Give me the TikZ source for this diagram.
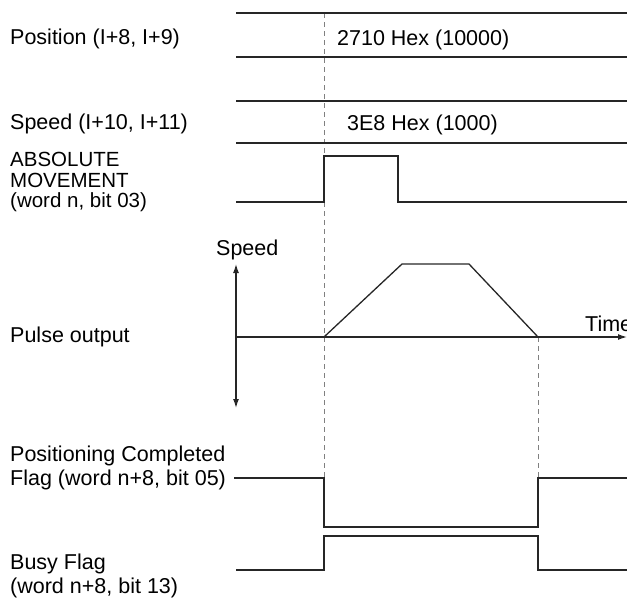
\documentclass[tikz,border=0pt]{standalone}
\usepackage{fontspec}
\setmainfont{Liberation Sans}
\usetikzlibrary{arrows.meta}
\begin{document}
\begin{tikzpicture}[x=1pt,y=-1pt,
  sig/.style={line width=1.3pt, black!85, line join=miter},
  guide/.style={gray, line width=0.7pt, dash pattern=on 5pt off 4pt},
  lbl/.style={anchor=west, inner sep=0pt, align=left, font=\fontsize{21.5}{24}\selectfont},
  lblt/.style={anchor=west, inner sep=0pt, align=left, font=\fontsize{20.5}{20.5}\selectfont},
  val/.style={anchor=west, inner sep=0pt, font=\fontsize{21.5}{24}\selectfont},
  tip/.style={-{Latex[length=9pt,width=6pt]}},
]
\useasboundingbox (0,0) rectangle (627,616);

% labels
\node[lbl] (lpos) at (10,39) {Position (I+8, I+9)};
\node[lbl] (lspd) at (10,124) {Speed (I+10, I+11)};
\node[lblt] (labs) at (10,182) {ABSOLUTE\\MOVEMENT\\(word n, bit 03)};
\node[lbl] (lpul) at (10,337) {Pulse output};
\node[lbl] (lpcf) at (10,468) {Positioning Completed\\Flag (word n+8, bit 05)};
\node[lbl] (lbsy) at (10,576) {Busy Flag\\(word n+8, bit 13)};

% guides
\coordinate (t0) at (324,13);
\coordinate (t0b) at (324,478);
\coordinate (t1) at (538,337);
\coordinate (t1b) at (538,478);
\draw[guide] (t0) -- (t0b);
\draw[guide] (t1) -- (t1b);

% position / speed registers
\draw[sig] (236,13) -- (627,13);
\draw[sig] (236,57) -- (627,57);
\node[val] (vpos) at (337,40) {2710 Hex (10000)};
\draw[sig] (236,101) -- (627,101);
\draw[sig] (236,143) -- (627,143);
\node[val] (vspd) at (347,125) {3E8 Hex (1000)};

% absolute movement
\draw[sig] (236,202) -- (324,202) -- (324,156) -- (398,156) -- (398,202) -- (627,202);

% pulse output
\coordinate (orig) at (236,337);
\coordinate (ytop) at (236,264);
\coordinate (ybot) at (236,408);
\coordinate (xend) at (627,337);
\draw[sig, tip] (orig) -- (ytop);
\draw[sig, tip] (orig) -- (ybot);
\draw[sig, tip] (orig) -- (xend);
\node[val] (lspeed) at (216,250) {Speed};
\node[val] (ltime) at (585,324) {Time};
\draw[sig] (324,337) -- (402,264) -- (469,264) -- (538,337);

% positioning completed flag
\draw[sig] (234,478) -- (324,478) -- (324,527) -- (538,527) -- (538,478) -- (627,478);

% busy flag
\draw[sig] (236,570) -- (324,570) -- (324,536) -- (538,536) -- (538,570) -- (627,570);
\end{tikzpicture}
\end{document}
